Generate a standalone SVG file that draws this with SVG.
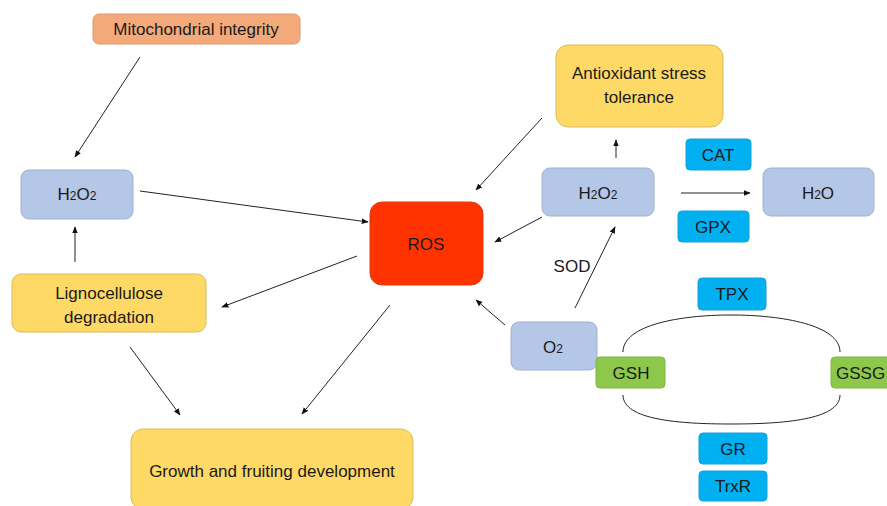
<svg xmlns="http://www.w3.org/2000/svg" width="887" height="506" viewBox="0 0 887 506">
<style>
text{font-family:"Liberation Sans",Arial,sans-serif;font-size:17px;fill:#1a1a1a;text-anchor:middle}
.sub{font-size:12px}
.orange{fill:#F4A97A;stroke:#d99a70;stroke-width:1}
.blue{fill:#B4C7E7;stroke:#9fb2d2;stroke-width:1}
.yellow{fill:#FFD966;stroke:#d9bb5c;stroke-width:1}
.ros{fill:#FF3300;stroke:#e23a0c;stroke-width:1}
.cyan{fill:#00B0F0;stroke:#14a0d8;stroke-width:1}
.green{fill:#8DC84A;stroke:#7fb542;stroke-width:1}
.c line,.c path{stroke:#222;stroke-width:1;fill:none}
</style>
<defs>
<marker id="ah" viewBox="0 0 10 10" refX="9" refY="5" markerWidth="7" markerHeight="7" orient="auto" markerUnits="userSpaceOnUse">
<path d="M0,1 L10,5 L0,9 z" fill="#111"/>
</marker>
</defs>
<rect width="887" height="506" fill="#fff"/>
<g class="c" id="connectors">
<line x1="140" y1="57" x2="75" y2="157" marker-end="url(#ah)"/>
<line x1="75" y1="262" x2="75" y2="227" marker-end="url(#ah)"/>
<line x1="140" y1="191" x2="368" y2="222" marker-end="url(#ah)"/>
<line x1="357" y1="256" x2="222" y2="307" marker-end="url(#ah)"/>
<line x1="390" y1="305" x2="302" y2="414" marker-end="url(#ah)"/>
<line x1="130" y1="347" x2="180" y2="415" marker-end="url(#ah)"/>
<line x1="542" y1="118" x2="476" y2="190" marker-end="url(#ah)"/>
<line x1="616" y1="158" x2="616" y2="140" marker-end="url(#ah)"/>
<line x1="542" y1="217" x2="495" y2="242" marker-end="url(#ah)"/>
<line x1="681" y1="193" x2="750" y2="193" marker-end="url(#ah)"/>
<line x1="575" y1="308" x2="615" y2="227" marker-end="url(#ah)"/>
<line x1="505" y1="325" x2="476" y2="300" marker-end="url(#ah)"/>
<path d="M623,352 C623,325 680,315 731,315 C782,315 840,325 840,352"/>
<path d="M623,395 C623,420 680,424 731,424 C782,424 840,420 840,395"/>
</g>
<g id="mito"><rect class="orange" x="93" y="14" width="207" height="30" rx="6"/><text x="196" y="35">Mitochondrial integrity</text></g>
<g id="h2o2-left"><rect class="blue" x="21" y="170" width="112" height="49" rx="8"/><text x="77" y="200">H<tspan class="sub">2</tspan>O<tspan class="sub">2</tspan></text></g>
<g id="ligno"><rect class="yellow" x="12" y="274" width="194" height="58" rx="9"/><text x="109" y="299">Lignocellulose</text><text x="109" y="323">degradation</text></g>
<g id="ros"><rect class="ros" x="370" y="202" width="113" height="83" rx="12"/><text x="426" y="250">ROS</text></g>
<g id="growth"><rect class="yellow" x="131" y="429" width="282" height="80" rx="12"/><text x="272" y="477">Growth and fruiting development</text></g>
<g id="antiox"><rect class="yellow" x="556" y="45" width="167" height="82" rx="12"/><text x="639" y="79">Antioxidant stress</text><text x="639" y="103">tolerance</text></g>
<g id="h2o2-right"><rect class="blue" x="542" y="168" width="112" height="48" rx="8"/><text x="598" y="199">H<tspan class="sub">2</tspan>O<tspan class="sub">2</tspan></text></g>
<g id="cat"><rect class="cyan" x="686" y="139" width="65" height="31" rx="4"/><text x="718" y="161">CAT</text></g>
<g id="gpx"><rect class="cyan" x="678" y="211" width="71" height="31" rx="4"/><text x="713" y="233">GPX</text></g>
<g id="h2o"><rect class="blue" x="763" y="168" width="111" height="48" rx="8"/><text x="818" y="199">H<tspan class="sub">2</tspan>O</text></g>
<g id="sod"><text x="572" y="272">SOD</text></g>
<g id="o2"><rect class="blue" x="511" y="322" width="86" height="48" rx="8"/><text x="553" y="353">O<tspan class="sub">2</tspan></text></g>
<g id="gsh"><rect class="green" x="596" y="357" width="69" height="31" rx="4"/><text x="631" y="379">GSH</text></g>
<g id="gssg"><rect class="green" x="831" y="357" width="64" height="31" rx="4"/><text x="836" y="379" style="text-anchor:start">GSSG</text></g>
<g id="tpx"><rect class="cyan" x="698" y="278" width="68" height="32" rx="4"/><text x="732" y="300">TPX</text></g>
<g id="gr"><rect class="cyan" x="699" y="433" width="68" height="31" rx="4"/><text x="733" y="455">GR</text></g>
<g id="trxr"><rect class="cyan" x="699" y="471" width="68" height="30" rx="4"/><text x="733" y="492">TrxR</text></g>
</svg>
